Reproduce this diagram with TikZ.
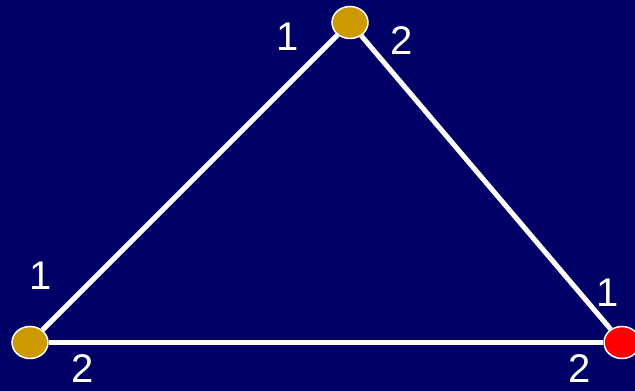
\documentclass[tikz,border=0pt]{standalone}
\usepackage{fontspec}
\setmainfont{Liberation Sans}
\usetikzlibrary{shapes.geometric, positioning}

\definecolor{navybg}{RGB}{0,0,102}
\definecolor{goldnode}{RGB}{204,153,0}
\definecolor{rednode}{RGB}{255,0,0}

\begin{document}
\begin{tikzpicture}[
    x=1pt, y=1pt,
    vertex/.style={ellipse, draw=white, line width=1.5pt, fill=#1,
                   minimum width=36pt, minimum height=32pt, inner sep=0pt},
    edge/.style={draw=white, line width=5pt},
    port/.style={text=white, font=\fontsize{40}{40}\selectfont, inner sep=0pt},
]
\fill[navybg] (0,0) rectangle (635,391);
\useasboundingbox (0,0) rectangle (635,391);

% the three processes
\node[vertex=goldnode] (top)   at (350,368.5) {};
\node[vertex=goldnode] (left)  at (30,48.5)   {};
\node[vertex=rednode]  (right) at (622,48.5)  {};

% channels
\draw[edge] (top) -- (left);
\draw[edge] (top) -- (right);
\draw[edge] (left) -- (right);

% port numbers
\node[port] (t1) at (288,354) {1};
\node[port] (t2) at (402,350) {2};
\node[port] (l1) at (40.5,115) {1};
\node[port] (l2) at (83,22)    {2};
\node[port] (r1) at (608,98)   {1};
\node[port] (r2) at (580,22)   {2};
\end{tikzpicture}
\end{document}
